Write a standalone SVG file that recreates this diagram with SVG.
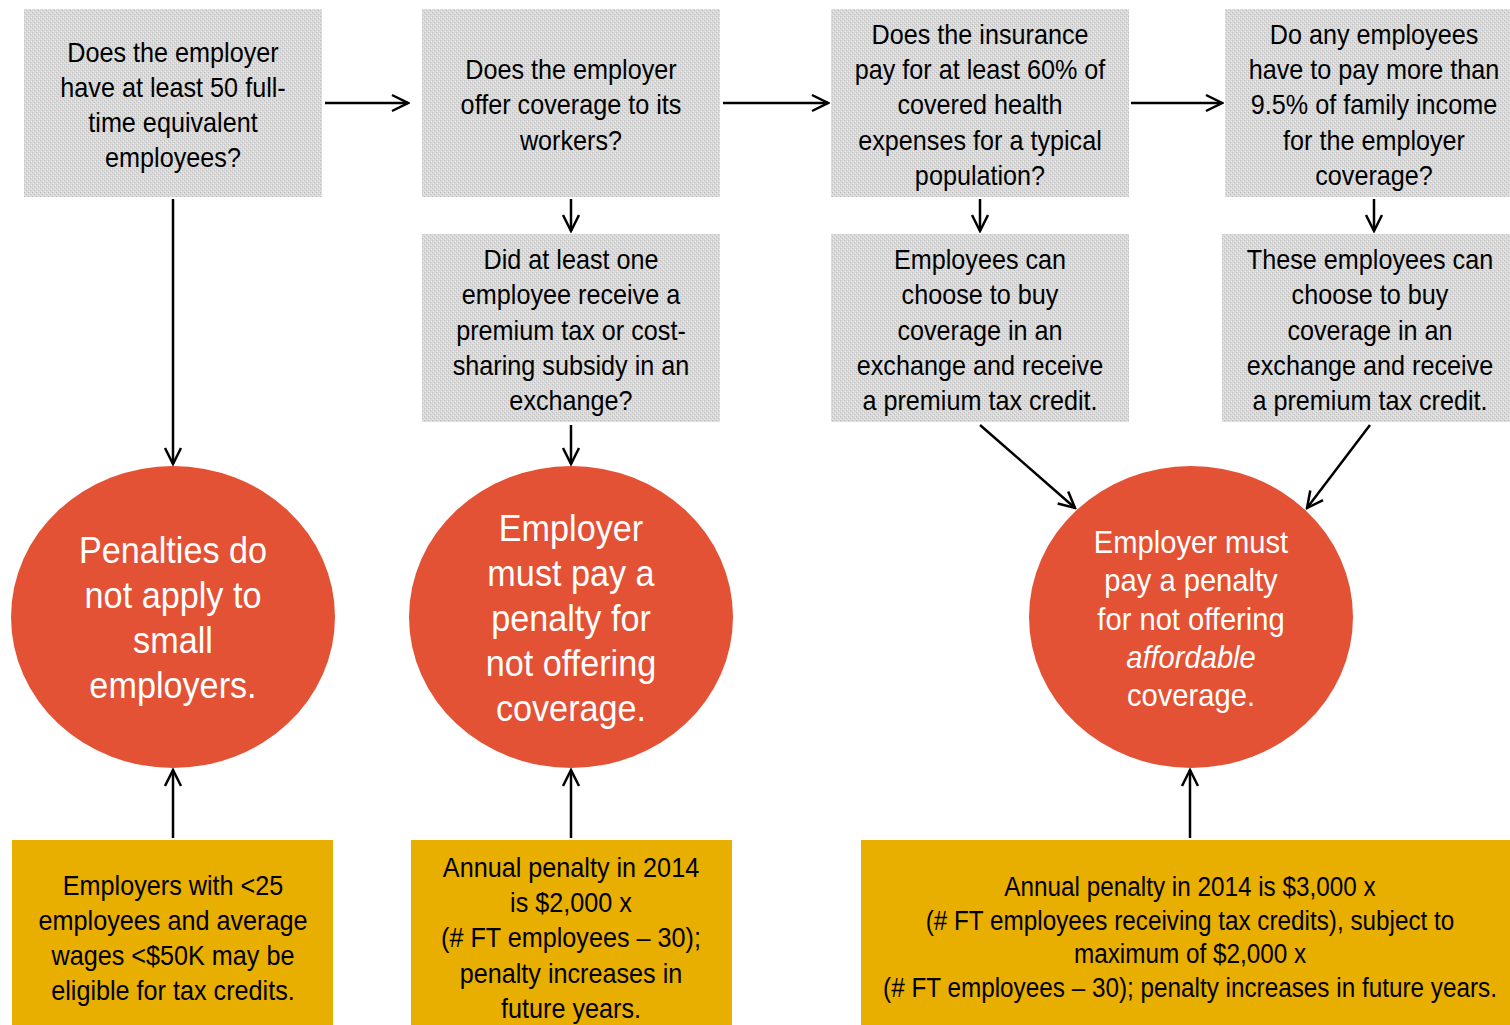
<svg xmlns="http://www.w3.org/2000/svg" width="1510" height="1025" viewBox="0 0 1510 1025">
<defs>
<pattern id="dots" width="4" height="4" patternUnits="userSpaceOnUse">
<rect width="4" height="4" fill="#d9d9d9"/>
<rect x="0" y="0" width="1" height="1" fill="#bdbdbd"/>
<rect x="2" y="2" width="1" height="1" fill="#bdbdbd"/>
<rect x="1" y="3" width="1" height="1" fill="#ececec"/>
<rect x="3" y="1" width="1" height="1" fill="#ececec"/>
</pattern>
<marker id="arr" viewBox="0 0 20 20" refX="18" refY="10" markerWidth="20" markerHeight="20" markerUnits="userSpaceOnUse" orient="auto">
<path d="M2,2 L18,10 L2,18" fill="none" stroke="#000" stroke-width="2.5"/>
</marker>
<style>
.q{fill:url(#dots);}
.c{fill:#e45236;}
.y{fill:#e8ae00;}
text{font-family:"Liberation Sans",Arial,sans-serif;text-anchor:middle;}
.qt{font-size:28px;fill:#000;}
.ct{font-size:36px;fill:#fff;}
.ct2{font-size:31px;fill:#fff;}
.yt{font-size:28px;fill:#000;}
.yt2{font-size:27px;fill:#000;}
.ln{stroke:#000;stroke-width:2.5;fill:none;marker-end:url(#arr);}
</style>
</defs>
<rect width="1510" height="1025" fill="#fff"/>
<g id="q1"><rect class="q" x="24" y="9" width="298" height="188"/>
<text class="qt" transform="translate(173 0) scale(0.9 1)"><tspan x="0" y="62">Does the employer</tspan><tspan x="0" y="97">have at least 50 full-</tspan><tspan x="0" y="132">time equivalent</tspan><tspan x="0" y="167">employees?</tspan></text></g>
<g id="q2"><rect class="q" x="422" y="9" width="298" height="188"/>
<text class="qt" transform="translate(571 0) scale(0.9 1)"><tspan x="0" y="79">Does the employer</tspan><tspan x="0" y="114">offer coverage to its</tspan><tspan x="0" y="150">workers?</tspan></text></g>
<g id="q3"><rect class="q" x="831" y="9" width="298" height="188"/>
<text class="qt" transform="translate(980 0) scale(0.9 1)"><tspan x="0" y="44">Does the insurance</tspan><tspan x="0" y="79">pay for at least 60% of</tspan><tspan x="0" y="114">covered health</tspan><tspan x="0" y="150">expenses for a typical</tspan><tspan x="0" y="185">population?</tspan></text></g>
<g id="q4"><rect class="q" x="1225" y="9" width="285" height="188"/>
<text class="qt" transform="translate(1374 0) scale(0.9 1)"><tspan x="0" y="44">Do any employees</tspan><tspan x="0" y="79">have to pay more than</tspan><tspan x="0" y="114">9.5% of family income</tspan><tspan x="0" y="150">for the employer</tspan><tspan x="0" y="185">coverage?</tspan></text></g>
<g id="q5"><rect class="q" x="422" y="234" width="298" height="188"/>
<text class="qt" transform="translate(571 0) scale(0.9 1)"><tspan x="0" y="269">Did at least one</tspan><tspan x="0" y="304">employee receive a</tspan><tspan x="0" y="340">premium tax or cost-</tspan><tspan x="0" y="375">sharing subsidy in an</tspan><tspan x="0" y="410">exchange?</tspan></text></g>
<g id="q6"><rect class="q" x="831" y="234" width="298" height="188"/>
<text class="qt" transform="translate(980 0) scale(0.9 1)"><tspan x="0" y="269">Employees can</tspan><tspan x="0" y="304">choose to buy</tspan><tspan x="0" y="340">coverage in an</tspan><tspan x="0" y="375">exchange and receive</tspan><tspan x="0" y="410">a premium tax credit.</tspan></text></g>
<g id="q7"><rect class="q" x="1222" y="234" width="288" height="188"/>
<text class="qt" transform="translate(1370 0) scale(0.9 1)"><tspan x="0" y="269">These employees can</tspan><tspan x="0" y="304">choose to buy</tspan><tspan x="0" y="340">coverage in an</tspan><tspan x="0" y="375">exchange and receive</tspan><tspan x="0" y="410">a premium tax credit.</tspan></text></g>
<g id="c1"><ellipse class="c" cx="173" cy="617" rx="162" ry="151"/>
<text class="ct" transform="translate(173 0) scale(0.95 1)"><tspan x="0" y="563">Penalties do</tspan><tspan x="0" y="608">not apply to</tspan><tspan x="0" y="653">small</tspan><tspan x="0" y="698">employers.</tspan></text></g>
<g id="c2"><ellipse class="c" cx="571" cy="617" rx="162" ry="151"/>
<text class="ct" transform="translate(571 0) scale(0.95 1)"><tspan x="0" y="541">Employer</tspan><tspan x="0" y="586">must pay a</tspan><tspan x="0" y="631">penalty for</tspan><tspan x="0" y="676">not offering</tspan><tspan x="0" y="721">coverage.</tspan></text></g>
<g id="c3"><ellipse class="c" cx="1191" cy="617" rx="162" ry="151"/>
<text class="ct2" transform="translate(1191 0) scale(0.94 1)"><tspan x="0" y="553">Employer must</tspan><tspan x="0" y="591">pay a penalty</tspan><tspan x="0" y="630">for not offering</tspan><tspan x="0" y="668" font-style="italic">affordable</tspan><tspan x="0" y="706">coverage.</tspan></text></g>
<g id="y1"><rect class="y" x="12" y="840" width="321" height="185"/>
<text class="yt" transform="translate(173 0) scale(0.9 1)"><tspan x="0" y="895">Employers with &lt;25</tspan><tspan x="0" y="930">employees and average</tspan><tspan x="0" y="965">wages &lt;$50K may be</tspan><tspan x="0" y="1000">eligible for tax credits.</tspan></text></g>
<g id="y2"><rect class="y" x="411" y="840" width="321" height="185"/>
<text class="yt" transform="translate(571 0) scale(0.9 1)"><tspan x="0" y="877">Annual penalty in 2014</tspan><tspan x="0" y="912">is $2,000 x</tspan><tspan x="0" y="947">(# FT employees – 30);</tspan><tspan x="0" y="983">penalty increases in</tspan><tspan x="0" y="1018">future years.</tspan></text></g>
<g id="y3"><rect class="y" x="861" y="840" width="649" height="185"/>
<text class="yt2" transform="translate(1190 0) scale(0.9 1)"><tspan x="0" y="896">Annual penalty in 2014 is $3,000 x</tspan><tspan x="0" y="930">(# FT employees receiving tax credits), subject to</tspan><tspan x="0" y="963">maximum of $2,000 x</tspan><tspan x="0" y="997">(# FT employees – 30); penalty increases in future years.</tspan></text></g>
<g id="connectors">
<line class="ln" x1="325" y1="103" x2="408" y2="103"/>
<line class="ln" x1="723" y1="103" x2="828" y2="103"/>
<line class="ln" x1="1131" y1="103" x2="1222" y2="103"/>
<line class="ln" x1="173" y1="199" x2="173" y2="464"/>
<line class="ln" x1="571" y1="199" x2="571" y2="231"/>
<line class="ln" x1="571" y1="425" x2="571" y2="464"/>
<line class="ln" x1="980" y1="199" x2="980" y2="231"/>
<line class="ln" x1="1374" y1="199" x2="1374" y2="231"/>
<line class="ln" x1="980" y1="425" x2="1075" y2="508"/>
<line class="ln" x1="1370" y1="425" x2="1307" y2="508"/>
<line class="ln" x1="173" y1="838" x2="173" y2="770"/>
<line class="ln" x1="571" y1="838" x2="571" y2="770"/>
<line class="ln" x1="1190" y1="838" x2="1190" y2="770"/>
</g>
</svg>
